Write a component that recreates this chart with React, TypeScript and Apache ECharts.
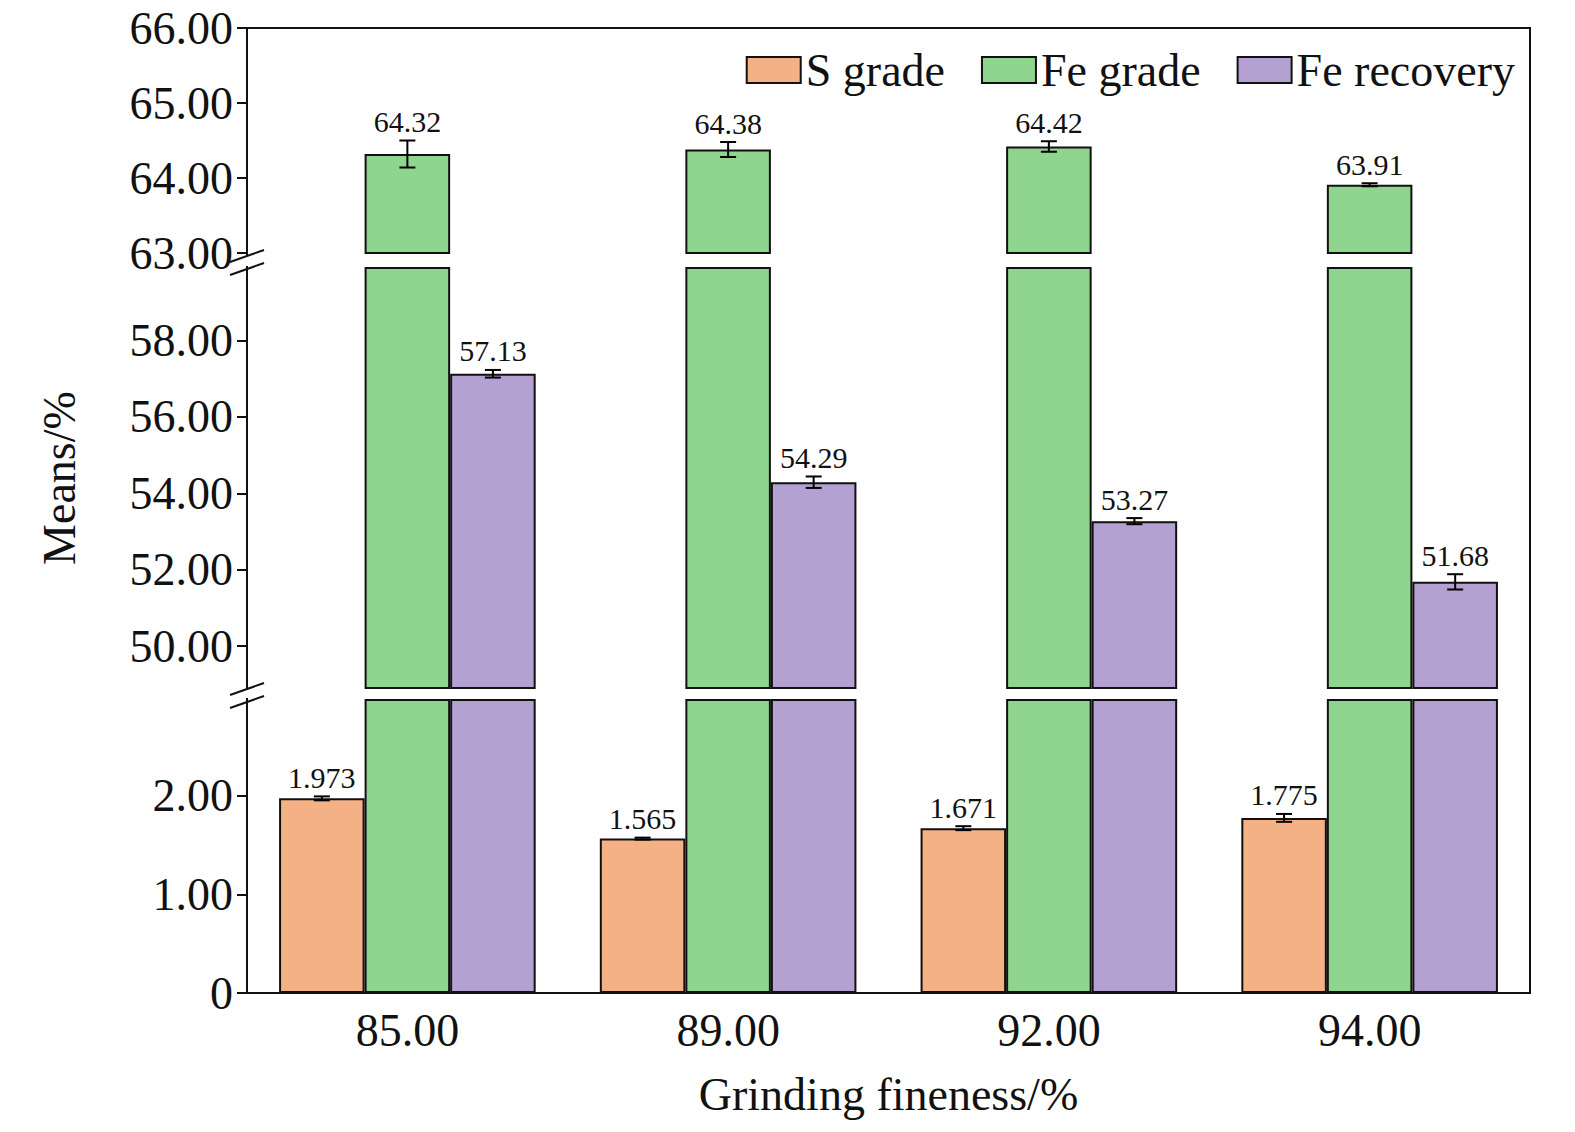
import { useEffect, useRef } from 'react';
import * as echarts from 'echarts';

const categories = ['85.00', '89.00', '92.00', '94.00'];
const sGrade = [1.973, 1.565, 1.671, 1.775];
const sErr = [0.02, 0.01, 0.02, 0.04];
const feGrade = [64.32, 64.38, 64.42, 63.91];
const feGradeErr = [0.18, 0.1, 0.07, 0.02];
const feRecovery = [57.13, 54.29, 53.27, 51.68];
const feRecoveryErr = [0.1, 0.15, 0.08, 0.2];
const seriesNames = ['S grade', 'Fe grade', 'Fe recovery'];
const colors = ['#f5b186', '#8fd48f', '#b5a0d2'];
const topTicks = [63, 64, 65, 66];
const midTicks = [50, 52, 54, 56, 58];
const lowTicks = [0, 1, 2];

const FONT = '"Liberation Serif", "Times New Roman", serif';

export default function App() {
  const ref = useRef<HTMLDivElement>(null);

  useEffect(() => {
    if (!ref.current) return;
    const chart = echarts.init(ref.current, null, { renderer: 'svg' });

    const grids = [
      { left: 247, width: 1283, top: 28, height: 225 },
      { left: 247, width: 1283, top: 268, height: 420 },
      { left: 247, width: 1283, top: 700, height: 293 },
    ];
    const yRanges = [
      { min: 63, max: 66 },
      { min: 48.9, max: 59.9 },
      { min: 0, max: 2.97 },
    ];
    const tickSets = [topTicks, midTicks, lowTicks];
    const allData = [sGrade, feGrade, feRecovery];

    const errSeries = (gi: number, k: number, vals: number[], errs: number[]) => ({
      type: 'custom',
      xAxisIndex: gi,
      yAxisIndex: gi,
      z: 10,
      data: vals.map((v, i) => [i, v, errs[i]]),
      renderItem: (params: any, api: any) => {
        const idx = api.value(0);
        const v = api.value(1);
        const e = api.value(2);
        const bandw = api.size([1, 0])[0];
        const bw = (bandw * 0.8) / 3;
        const c = api.coord([idx, v]);
        const x = c[0] + (k - 1) * bw;
        const top = api.coord([idx, v + e])[1];
        const bot = api.coord([idx, v - e])[1];
        const st = { stroke: '#000', lineWidth: 2 };
        return {
          type: 'group',
          children: [
            { type: 'line', shape: { x1: x, y1: top, x2: x, y2: bot }, style: st },
            { type: 'line', shape: { x1: x - 8, y1: top, x2: x + 8, y2: top }, style: st },
            { type: 'line', shape: { x1: x - 8, y1: bot, x2: x + 8, y2: bot }, style: st },
            {
              type: 'text',
              x,
              y: top - 4,
              style: {
                text: k === 0 ? v.toFixed(3) : v.toFixed(2),
                font: `30px ${FONT}`,
                fill: '#111',
                align: 'center',
                verticalAlign: 'bottom',
              },
            },
          ],
        };
      },
    });

    const series: any[] = [];
    grids.forEach((_, gi) => {
      allData.forEach((d, k) => {
        series.push({
          type: 'bar',
          name: seriesNames[k],
          xAxisIndex: gi,
          yAxisIndex: gi,
          data: d,
          barGap: '0%',
          barCategoryGap: '20%',
          itemStyle: { color: colors[k], borderColor: '#111', borderWidth: 2 },
        });
      });
    });
    series.push(errSeries(2, 0, sGrade, sErr));
    series.push(errSeries(0, 1, feGrade, feGradeErr));
    series.push(errSeries(1, 2, feRecovery, feRecoveryErr));

    const option = {
      animation: false,
      textStyle: { fontFamily: FONT },
      grid: grids,
      legend: {
        data: seriesNames,
        right: 55,
        top: 42,
        itemWidth: 54,
        itemHeight: 26,
        itemGap: 36,
        icon: 'rect',
        textStyle: { fontSize: 46, fontFamily: FONT, color: '#111' },
        itemStyle: { borderColor: '#111', borderWidth: 2 },
      },
      xAxis: grids.map((_, gi) => ({
        type: 'category',
        gridIndex: gi,
        data: categories,
        show: gi === 2,
        axisLine: { show: false },
        axisTick: { show: false },
        axisLabel: { fontSize: 46, color: '#111', fontFamily: FONT, margin: 14 },
        name: gi === 2 ? 'Grinding fineness/%' : '',
        nameLocation: 'middle',
        nameGap: 78,
        nameTextStyle: { fontSize: 46, color: '#111', fontFamily: FONT },
      })),
      yAxis: grids.map((_, gi) => ({
        type: 'value',
        gridIndex: gi,
        ...yRanges[gi],
        splitLine: { show: false },
        axisLine: { show: false },
        axisTick: {
          show: true,
          inside: false,
          length: 10,
          customValues: tickSets[gi],
          lineStyle: { color: '#111', width: 2 },
        },
        axisLabel: {
          fontSize: 46,
          color: '#111',
          fontFamily: FONT,
          margin: 14,
          customValues: tickSets[gi],
          formatter: (v: number) => (v === 0 ? '0' : v.toFixed(2)),
        },
        name: gi === 1 ? 'Means/%' : '',
        nameLocation: 'middle',
        nameGap: 165,
        nameTextStyle: { fontSize: 46, color: '#111', fontFamily: FONT },
      })),
      graphic: [
        {
          type: 'rect',
          z: 100,
          shape: { x: 247, y: 28, width: 1283, height: 965 },
          style: { fill: 'none', stroke: '#111', lineWidth: 2 },
        },
        { type: 'rect', z: 101, shape: { x: 238, y: 256, width: 18, height: 10 }, style: { fill: '#fff' } },
        { type: 'rect', z: 101, shape: { x: 238, y: 690, width: 18, height: 8 }, style: { fill: '#fff' } },
        { type: 'line', z: 102, shape: { x1: 230, y1: 262, x2: 264, y2: 250 }, style: { stroke: '#111', lineWidth: 2 } },
        { type: 'line', z: 102, shape: { x1: 230, y1: 275, x2: 264, y2: 263 }, style: { stroke: '#111', lineWidth: 2 } },
        { type: 'line', z: 102, shape: { x1: 230, y1: 695, x2: 264, y2: 683 }, style: { stroke: '#111', lineWidth: 2 } },
        { type: 'line', z: 102, shape: { x1: 230, y1: 708, x2: 264, y2: 696 }, style: { stroke: '#111', lineWidth: 2 } },
      ],
      series,
    };

    chart.setOption(option);
    return () => chart.dispose();
  }, []);

  return (
    <div
      ref={ref}
      style={{ position: 'fixed', left: 0, top: 0, width: 1575, height: 1132, background: '#fff' }}
    />
  );
}
